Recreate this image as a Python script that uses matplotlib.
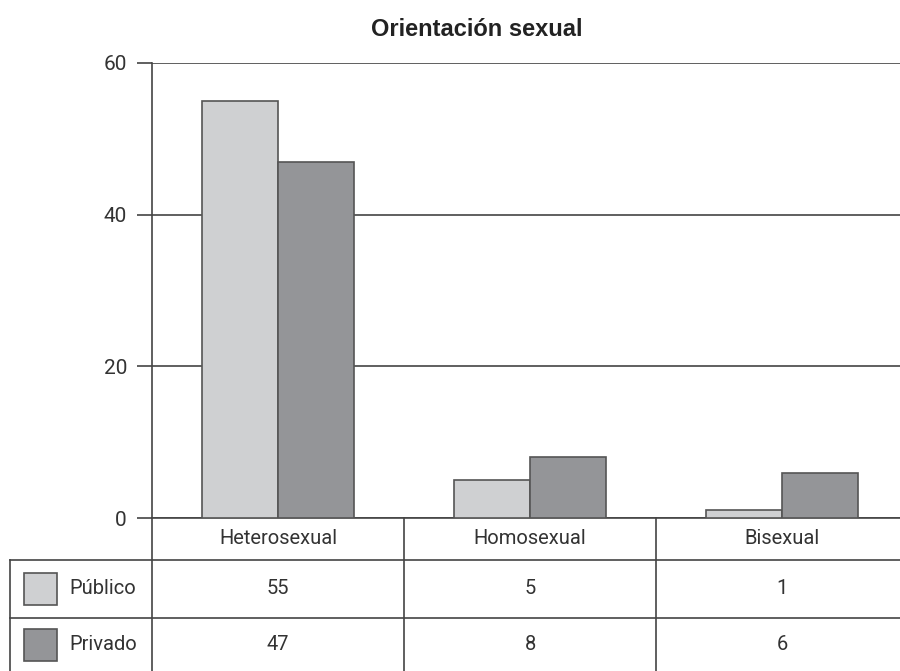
import numpy as np
import matplotlib.pyplot as plt
import matplotlib.transforms as mtransforms

plt.rcParams['font.family'] = ['Roboto', 'DejaVu Sans']

# data
categorias = ['Heterosexual', 'Homosexual', 'Bisexual']
series = ['Público', 'Privado']
publico = [55, 5, 1]
privado = [47, 8, 6]
yticks = [0, 20, 40, 60]

col_pub = '#cfd0d2'
col_priv = '#949598'
edge = '#555555'
linec = '#444444'
textc = '#333333'

fig = plt.figure(figsize=(9, 6.71), dpi=100)
ax = fig.add_axes([152/900, 153/671, 748/900, 455/671])

x = np.arange(len(categorias))
w = 0.3
ax.bar(x - w/2, publico, width=w, color=col_pub, edgecolor=edge, linewidth=1.2, zorder=3)
ax.bar(x + w/2, privado, width=w, color=col_priv, edgecolor=edge, linewidth=1.2, zorder=3)

ax.set_xlim(-0.5, -0.5 + 748/252)
ax.set_ylim(0, 60)
ax.set_yticks(yticks)
ax.set_yticklabels([str(t) for t in yticks], fontsize=15, color=textc)
ax.tick_params(axis='y', length=11, width=1.2, color=linec, pad=7)
ax.set_xticks([])
ax.yaxis.grid(True, color=linec, linewidth=1.2, zorder=0)
ax.set_axisbelow(True)
for s in ['top', 'right']:
    ax.spines[s].set_visible(False)
ax.spines['left'].set_color(linec)
ax.spines['left'].set_linewidth(1.2)
ax.spines['bottom'].set_color(linec)
ax.spines['bottom'].set_linewidth(1.2)

fig.text(477/900, 1 - 30/671, 'Orientación sexual', ha='center', va='center',
         fontsize=17, fontweight='bold', color='#222222', family=['Liberation Sans'])

# table below the axis
trans = mtransforms.blended_transform_factory(ax.transData, ax.transAxes)
h = 455.0
y_head = -42/h
y_r1 = -100/h
y_bot = -153/h
x_left = -0.5 - 142/252
x_right = -0.5 + 748/252
lk = dict(color=linec, linewidth=1.2, transform=trans, clip_on=False)

ax.plot([x_left, x_right], [y_head, y_head], **lk)
ax.plot([x_left, x_right], [y_r1, y_r1], **lk)
ax.plot([x_left, x_left], [y_head, y_bot], **lk)
ax.plot([-0.5, -0.5], [0, y_bot], **lk)
for i in range(len(categorias)):
    ax.plot([i + 0.5, i + 0.5], [0, y_bot], **lk)

for i, c in enumerate(categorias):
    ax.text(i, y_head/2, c, ha='center', va='center', fontsize=14.5,
            color=textc, transform=trans)

rows = [(series[0], publico, col_pub), (series[1], privado, col_priv)]
row_y = [(y_head + y_r1)/2, (y_r1 + y_bot)/2]
for (name, vals, col), yy in zip(rows, row_y):
    for i, v in enumerate(vals):
        ax.text(i, yy, str(v), ha='center', va='center', fontsize=14.5,
                color=textc, transform=trans)
    ax.text(-0.5 - 83/252, yy, name, ha='left', va='center', fontsize=14.5,
            color=textc, transform=trans)
    sq = plt.Rectangle((-0.5 - 128/252, yy - 16/h), 33/252, 32/h,
                       facecolor=col, edgecolor=edge, linewidth=1.2,
                       transform=trans, clip_on=False)
    ax.add_patch(sq)

plt.savefig('out.png', dpi=100)
